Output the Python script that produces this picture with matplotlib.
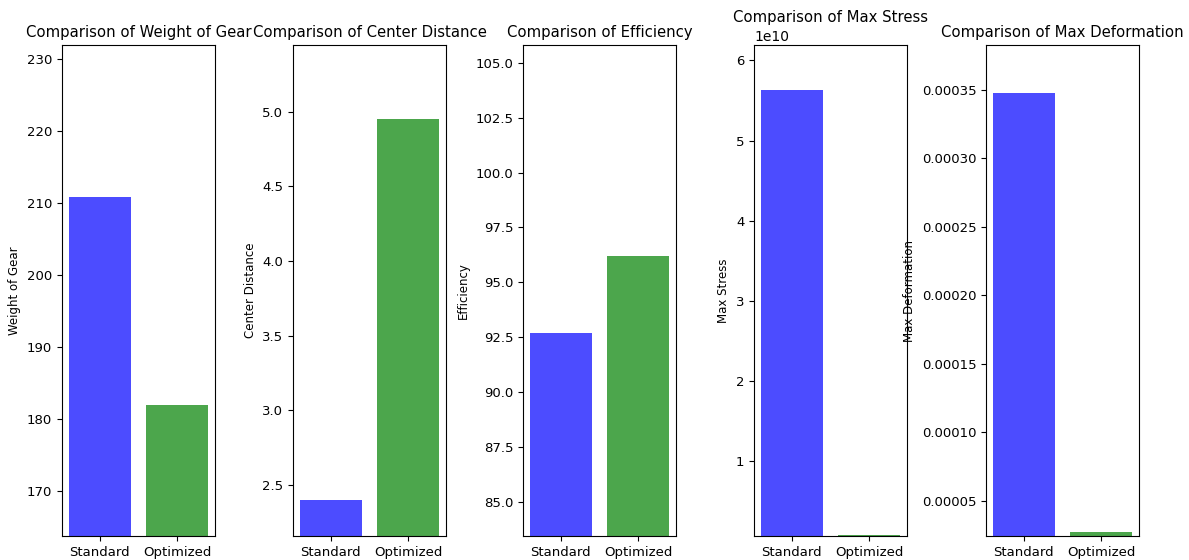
import matplotlib
matplotlib.use('Agg')
import matplotlib.pyplot as plt

labels = ['Standard', 'Optimized']
metrics = ['Weight of Gear', 'Center Distance', 'Efficiency', 'Max Stress', 'Max Deformation']
weight = [210.8, 182.0]
center_distance = [2.40, 4.95]
efficiency = [92.7, 96.2]
max_stress = [5.63e10, 7.6e8]
max_deformation = [0.000348, 0.0000268]
values = [weight, center_distance, efficiency, max_stress, max_deformation]

plt.rcParams['font.family'] = ['DejaVu Sans']
fig = plt.figure(figsize=(11.89, 5.6), dpi=100)

lefts = [62, 293, 523, 754, 986]
for i, metric in enumerate(metrics):
    ax = fig.add_axes([lefts[i] / 1189, 24 / 560, 153 / 1189, 491 / 560])
    vals = values[i]
    ax.bar(labels, vals, color=['blue', 'green'], alpha=0.7)
    ax.set_ylim(min(vals) * 0.9, max(vals) * 1.1)
    ax.set_title(f'Comparison of {metric}', fontsize=10.7)
    ax.set_ylabel(metric, fontsize=8.5)
    ax.tick_params(labelsize=9.5)

fig.savefig('out.png', dpi=100)
